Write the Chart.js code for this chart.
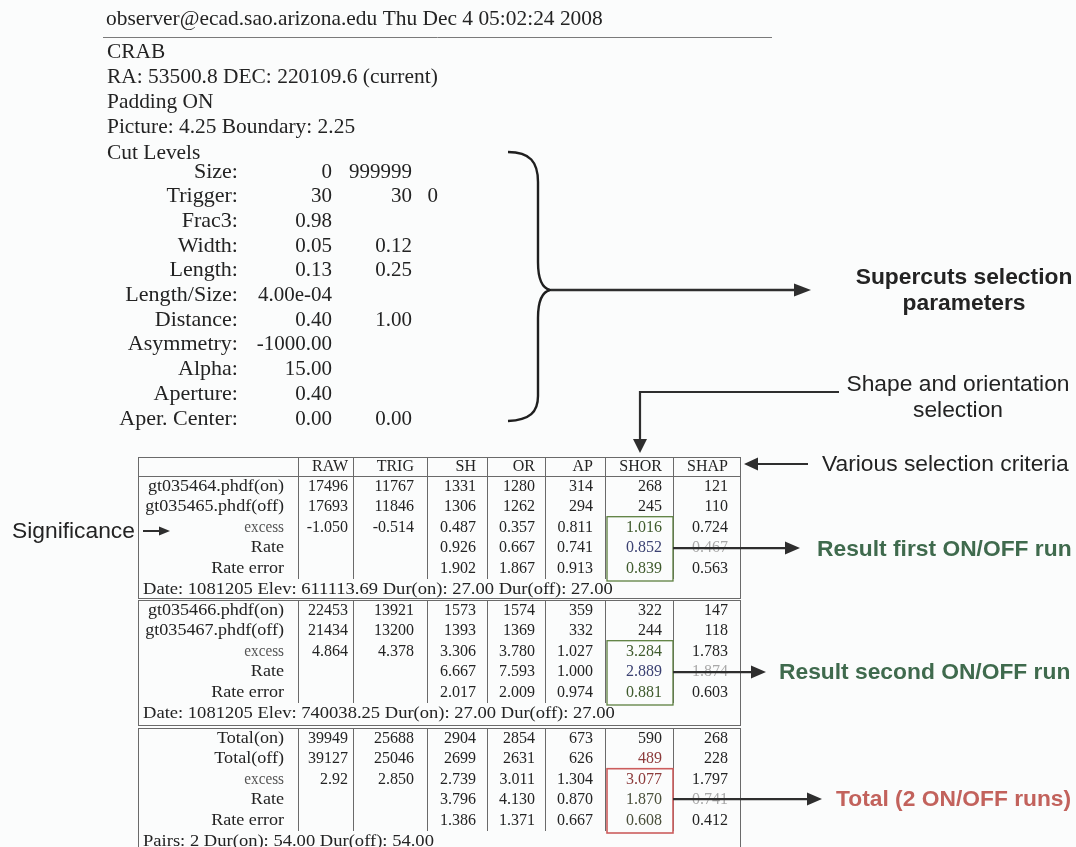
<!DOCTYPE html>
<html>
<head>
<meta charset="utf-8">
<script src="https://cdn.jsdelivr.net/npm/chart.js@4.4.0/dist/chart.umd.min.js"></script>
<style>
html,body{margin:0;padding:0;background:#fbfcfc;overflow:hidden}
canvas{display:block}
</style>
</head>
<body>
<canvas id="c" width="1076" height="847"></canvas>
<script>
// ---------------- DATA ----------------
const headerLine = 'observer@ecad.sao.arizona.edu Thu Dec 4 05:02:24 2008';
const infoLines = ['CRAB', 'RA: 53500.8 DEC: 220109.6 (current)', 'Padding ON', 'Picture: 4.25 Boundary: 2.25', 'Cut Levels'];

const cutNames = ['Size:', 'Trigger:', 'Frac3:', 'Width:', 'Length:', 'Length/Size:', 'Distance:', 'Asymmetry:', 'Alpha:', 'Aperture:', 'Aper. Center:'];
const cutLow   = ['0', '30', '0.98', '0.05', '0.13', '4.00e-04', '0.40', '-1000.00', '15.00', '0.40', '0.00'];
const cutHigh  = ['999999', '30', '', '0.12', '0.25', '', '1.00', '', '', '', '0.00'];
const cutExtra = ['', '0', '', '', '', '', '', '', '', '', ''];

const columns = ['RAW', 'TRIG', 'SH', 'OR', 'AP', 'SHOR', 'SHAP'];

const run1Rows    = ['gt035464.phdf(on)', 'gt035465.phdf(off)', 'excess', 'Rate', 'Rate error'];
const run1On      = ['17496', '11767', '1331', '1280', '314', '268', '121'];
const run1Off     = ['17693', '11846', '1306', '1262', '294', '245', '110'];
const run1Excess  = ['-1.050', '-0.514', '0.487', '0.357', '0.811', '1.016', '0.724'];
const run1Rate    = [null, null, '0.926', '0.667', '0.741', '0.852', '0.467'];
const run1RateErr = [null, null, '1.902', '1.867', '0.913', '0.839', '0.563'];
const run1Footer  = 'Date: 1081205 Elev: 611113.69 Dur(on): 27.00 Dur(off): 27.00';

const run2Rows    = ['gt035466.phdf(on)', 'gt035467.phdf(off)', 'excess', 'Rate', 'Rate error'];
const run2On      = ['22453', '13921', '1573', '1574', '359', '322', '147'];
const run2Off     = ['21434', '13200', '1393', '1369', '332', '244', '118'];
const run2Excess  = ['4.864', '4.378', '3.306', '3.780', '1.027', '3.284', '1.783'];
const run2Rate    = [null, null, '6.667', '7.593', '1.000', '2.889', '1.874'];
const run2RateErr = [null, null, '2.017', '2.009', '0.974', '0.881', '0.603'];
const run2Footer  = 'Date: 1081205 Elev: 740038.25 Dur(on): 27.00 Dur(off): 27.00';

const totalRows    = ['Total(on)', 'Total(off)', 'excess', 'Rate', 'Rate error'];
const totalOn      = ['39949', '25688', '2904', '2854', '673', '590', '268'];
const totalOff     = ['39127', '25046', '2699', '2631', '626', '489', '228'];
const totalExcess  = ['2.92', '2.850', '2.739', '3.011', '1.304', '3.077', '1.797'];
const totalRate    = [null, null, '3.796', '4.130', '0.870', '1.870', '0.741'];
const totalRateErr = [null, null, '1.386', '1.371', '0.667', '0.608', '0.412'];
const totalFooter  = 'Pairs: 2 Dur(on): 54.00 Dur(off): 54.00';

const noteSupercuts = ['Supercuts selection', 'parameters'];
const noteShape     = ['Shape and orientation', 'selection'];
const noteCriteria  = 'Various selection criteria';
const noteSignif    = 'Significance';
const noteResult1   = 'Result first ON/OFF run';
const noteResult2   = 'Result second ON/OFF run';
const noteTotal     = 'Total (2 ON/OFF runs)';

// ---------------- LAYOUT / STYLE ----------------
const W = 1076, H = 847;
const INK = '#232323', LINE = '#6a6a6a', GREEN = '#5d8040', GREEN_T = '#3f6a4d', RED = '#cc5d5d', RED_T = '#c2625c';
const fTop = '21px "Liberation Serif"';
const fTab = '16px "Liberation Serif"';
const fSans = '22.8px "Liberation Sans"';
const fSansB = 'bold 22.8px "Liberation Sans"';

const colRight = [348, 414, 476, 535, 593, 662, 728];
const colLines = [298, 353, 427, 487, 545, 605, 673];
const tableLeft = 138, tableRight = 740, headerTop = 457;
const groupTop = [476, 600, 728], groupBottom = [598, 725, 880];
const rowH = 20.6, labelRight = 284, footerLeft = 143;
const infoY0 = 52, infoStep = 25.25, cutY0 = 172, cutStep = 24.7;
const labelStretch = 1.13, footerStretch = 1.16, topStretch = 1.02;

function rowY(g, r) { return groupTop[g] + rowH * (r + 0.5); }

const groups = [
  {rows: run1Rows, vals: [run1On, run1Off, run1Excess, run1Rate, run1RateErr], footer: run1Footer},
  {rows: run2Rows, vals: [run2On, run2Off, run2Excess, run2Rate, run2RateErr], footer: run2Footer},
  {rows: totalRows, vals: [totalOn, totalOff, totalExcess, totalRate, totalRateErr], footer: totalFooter}
];

function cellColor(g, r, c) {
  if (c === 6 && r === 3) return '#a9a9a9';
  if (c === 5 && r >= 2 && g < 2) return r === 3 ? '#3c4272' : '#3f5a2c';
  if (c === 5 && g === 2 && (r === 1 || r === 2)) return '#8c3b3b';
  if (c === 5 && g === 2 && r >= 3) return '#4a4f3a';
  return INK;
}

// ---------- build datasets (text marks placed through the scales) ----------
const pts = {top: [], tab: [], sans: [], sansB: []};
pts.top.push({x: 106, y: 19, v: headerLine, a: 'left', sx: topStretch});
infoLines.forEach((t, i) => pts.top.push({x: 107, y: infoY0 + infoStep * i, v: t, a: 'left', sx: topStretch}));
cutNames.forEach((t, i) => {
  const y = cutY0 + cutStep * i;
  pts.top.push({x: 238, y, v: t, a: 'right', sx: 1.05});
  if (cutLow[i]) pts.top.push({x: 332, y, v: cutLow[i], a: 'right'});
  if (cutHigh[i]) pts.top.push({x: 412, y, v: cutHigh[i], a: 'right'});
  if (cutExtra[i]) pts.top.push({x: 438, y, v: cutExtra[i], a: 'right'});
});
columns.forEach((t, c) => pts.tab.push({x: colRight[c], y: 467, v: t, a: 'right'}));
groups.forEach((G, g) => {
  G.rows.forEach((t, r) => pts.tab.push({x: labelRight, y: rowY(g, r), v: t, a: 'right',
    sx: r === 2 ? 0.95 : labelStretch, col: r === 2 ? '#555555' : INK}));
  G.vals.forEach((arr, r) => arr.forEach((v, c) => {
    if (v !== null && v !== '') pts.tab.push({x: colRight[c], y: rowY(g, r), v: v, a: 'right', col: cellColor(g, r, c)});
  }));
  pts.tab.push({x: footerLeft, y: rowY(g, 5) + 0.5, v: G.footer, a: 'left', sx: footerStretch});
});
pts.sansB.push({x: 964, y: 278, v: noteSupercuts[0], a: 'center'});
pts.sansB.push({x: 964, y: 304, v: noteSupercuts[1], a: 'center'});
pts.sans.push({x: 958, y: 385, v: noteShape[0], a: 'center'});
pts.sans.push({x: 958, y: 411, v: noteShape[1], a: 'center'});
pts.sans.push({x: 822, y: 465, v: noteCriteria, a: 'left'});
pts.sans.push({x: 12, y: 532, v: noteSignif, a: 'left'});
pts.sansB.push({x: 817, y: 550, v: noteResult1, a: 'left', col: GREEN_T});
pts.sansB.push({x: 779, y: 673, v: noteResult2, a: 'left', col: GREEN_T});
pts.sansB.push({x: 836, y: 800, v: noteTotal, a: 'left', col: RED_T});

function ds(data, font) {
  return {data, font, pointRadius: 0, pointHoverRadius: 0, showLine: false, borderWidth: 0};
}

// ---------------- PLUGINS ----------------
function helpers(chart) {
  const xs = chart.scales.x, ys = chart.scales.y;
  return {X: v => xs.getPixelForValue(v), Y: v => ys.getPixelForValue(v)};
}
function line(ctx, pts, color, lw) {
  ctx.save(); ctx.strokeStyle = color; ctx.lineWidth = lw; ctx.beginPath();
  pts.forEach((p, i) => i ? ctx.lineTo(p[0], p[1]) : ctx.moveTo(p[0], p[1]));
  ctx.stroke(); ctx.restore();
}
function arrowHead(ctx, tx, ty, dx, dy, len, wid, color) {
  const n = Math.hypot(dx, dy), ux = dx / n, uy = dy / n;
  const bx = tx - ux * len, by = ty - uy * len;
  ctx.save(); ctx.fillStyle = color; ctx.beginPath();
  ctx.moveTo(tx, ty); ctx.lineTo(bx - uy * wid / 2, by + ux * wid / 2); ctx.lineTo(bx + uy * wid / 2, by - ux * wid / 2);
  ctx.closePath(); ctx.fill(); ctx.restore();
}

const tablePlugin = {
  id: 'tableLines',
  beforeDraw(chart) {
    const ctx = chart.ctx;
    ctx.save(); ctx.fillStyle = '#fbfcfc'; ctx.fillRect(0, 0, chart.width, chart.height); ctx.restore();
  },
  beforeDatasetsDraw(chart) {
    const {X, Y} = helpers(chart), ctx = chart.ctx, h = v => Math.round(v) + 0.5;
    line(ctx, [[X(103), h(Y(37))], [X(772), h(Y(37))]], '#7a7a7a', 1);
    groupTop.forEach((t, g) => {
      const top = g === 0 ? headerTop : t;
      ctx.save(); ctx.strokeStyle = LINE; ctx.lineWidth = 1;
      ctx.strokeRect(h(X(tableLeft)), h(Y(top)), Math.round(X(tableRight) - X(tableLeft)), Math.round(Y(groupBottom[g]) - Y(top)));
      ctx.restore();
      const bot = t + rowH * 5;
      colLines.forEach(cx => line(ctx, [[h(X(cx)), Y(top)], [h(X(cx)), Y(bot)]], LINE, 1));
    });
    line(ctx, [[X(tableLeft), h(Y(groupTop[0]))], [X(tableRight), h(Y(groupTop[0]))]], LINE, 1);
    const bx0 = X(colLines[5]) + 2, bx1 = X(colLines[6]);
    [[0, GREEN], [1, GREEN], [2, RED]].forEach(([g, col]) => {
      const y0 = rowY(g, 2) - rowH / 2 - 0.5, y1 = rowY(g, 5) - rowH / 2 + 2;
      ctx.save(); ctx.strokeStyle = col; ctx.lineWidth = g === 2 ? 1.6 : 1.3;
      ctx.strokeRect(bx0, Y(y0), bx1 - bx0, Y(y1) - Y(y0)); ctx.restore();
    });
    ctx.save(); ctx.strokeStyle = '#1f1f1f'; ctx.lineWidth = 2.4; ctx.beginPath();
    ctx.moveTo(X(508), Y(152));
    ctx.bezierCurveTo(X(530), Y(152), X(538), Y(162), X(538), Y(182));
    ctx.lineTo(X(538), Y(262));
    ctx.bezierCurveTo(X(538), Y(280), X(542), Y(288), X(550), Y(290));
    ctx.bezierCurveTo(X(542), Y(292), X(538), Y(300), X(538), Y(318));
    ctx.lineTo(X(538), Y(396));
    ctx.bezierCurveTo(X(538), Y(412), X(530), Y(420), X(508), Y(421));
    ctx.stroke(); ctx.restore();
  },
  afterDatasetsDraw(chart) {
    const ctx = chart.ctx;
    chart.data.datasets.forEach((d, i) => {
      const meta = chart.getDatasetMeta(i);
      meta.data.forEach((el, j) => {
        const p = d.data[j];
        ctx.save(); ctx.font = d.font; ctx.fillStyle = p.col || INK; ctx.textAlign = p.a; ctx.textBaseline = 'middle';
        ctx.translate(el.x, el.y); ctx.scale(p.sx || 1, 1);
        ctx.fillText(p.v, 0, 0); ctx.restore();
      });
    });
    const {X, Y} = helpers(chart), A = '#2e2e2e';
    line(ctx, [[X(551), Y(290)], [X(796), Y(290)]], A, 2.4);
    arrowHead(ctx, X(811), Y(290), 1, 0, 17, 13, A);
    line(ctx, [[X(839), Y(392)], [X(640), Y(392)], [X(640), Y(440)]], A, 2.2);
    arrowHead(ctx, X(640), Y(453), 0, 1, 14, 14, A);
    line(ctx, [[X(808), Y(464)], [X(756), Y(464)]], A, 2.2);
    arrowHead(ctx, X(744), Y(464), -1, 0, 14, 13, A);
    line(ctx, [[X(143), Y(531)], [X(160), Y(531)]], A, 2);
    arrowHead(ctx, X(170), Y(531), 1, 0, 11, 9, A);
    [[rowY(0, 3), 800], [rowY(1, 3), 766], [rowY(2, 3) - 1, 822]].forEach(([yy, tip]) => {
      line(ctx, [[X(673), Y(yy)], [X(tip - 12), Y(yy)]], A, 2.2);
      arrowHead(ctx, X(tip), Y(yy), 1, 0, 15, 13, A);
    });
  }
};

new Chart(document.getElementById('c').getContext('2d'), {
  type: 'scatter',
  data: {datasets: [ds(pts.top, fTop), ds(pts.tab, fTab), ds(pts.sans, fSans), ds(pts.sansB, fSansB)]},
  options: {
    responsive: false, animation: false, events: [],
    layout: {padding: 0},
    plugins: {legend: {display: false}, tooltip: {enabled: false}},
    scales: {
      x: {type: 'linear', min: 0, max: W, display: false},
      y: {type: 'linear', min: 0, max: H, reverse: true, display: false}
    }
  },
  plugins: [tablePlugin]
});
</script>
</body>
</html>
